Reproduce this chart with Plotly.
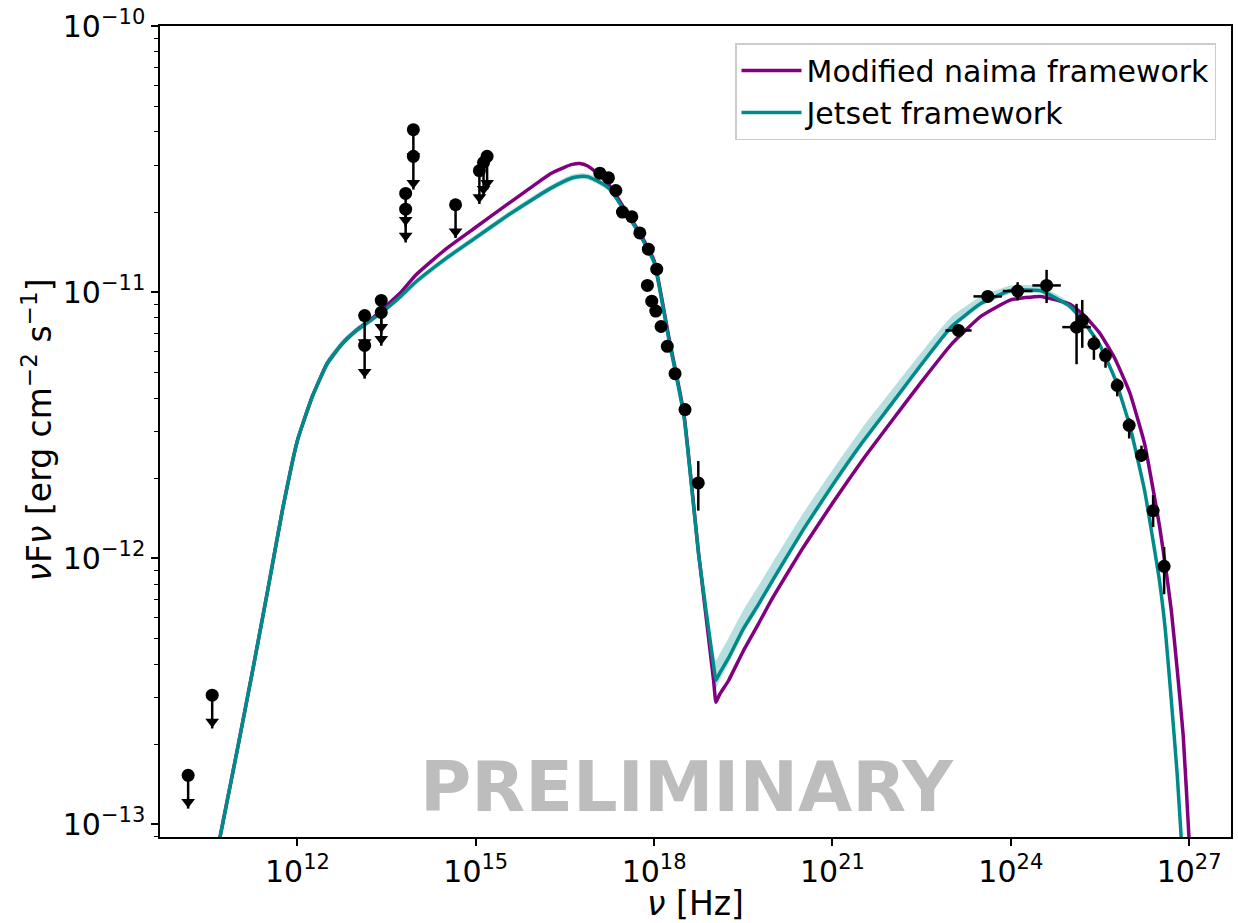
import numpy as np
import plotly.graph_objects as go

# ---------------- model curves (log10 nu [Hz], log10 nuFnu [erg cm-2 s-1]) ----------------
model_lognu = [10.5, 10.75, 11.0, 11.25, 11.5, 11.75, 12.0, 12.25, 12.5, 12.75, 13.0, 13.25,
               13.5, 13.75, 14.0, 14.5, 15.0, 15.5, 16.0, 16.25, 16.5, 16.625, 16.75, 16.875,
               17.0, 17.125, 17.25, 17.5, 17.75, 18.0, 18.25, 18.5, 18.75, 19.0, 19.04, 19.1,
               19.25, 19.5, 19.75, 20.0, 20.5, 21.0, 21.5, 22.0, 22.5, 23.0, 23.5, 24.0, 24.5,
               25.0, 25.25, 25.5, 25.75, 26.0, 26.25, 26.5, 26.6, 26.7, 26.8, 26.9, 27.0, 27.05]

jetset_logflux = [-13.27, -12.988, -12.706, -12.417, -12.120, -11.816, -11.557, -11.392, -11.268,
                  -11.194, -11.142, -11.103, -11.061, -11.013, -10.960, -10.873, -10.795, -10.717,
                  -10.645, -10.611, -10.582, -10.570, -10.565, -10.566, -10.577, -10.592, -10.612,
                  -10.693, -10.780, -10.889, -11.181, -11.463, -11.989, -12.402, -12.458, -12.432,
                  -12.375, -12.265, -12.175, -12.080, -11.895, -11.725, -11.565, -11.418, -11.270,
                  -11.130, -11.042, -10.994, -10.994, -11.054, -11.118, -11.200, -11.324, -11.501,
                  -11.745, -12.083, -12.271, -12.534, -12.815, -13.172, -13.6, -13.9]

naima_logflux = [-13.27, -12.988, -12.706, -12.417, -12.120, -11.816, -11.557, -11.392, -11.268,
                 -11.194, -11.142, -11.100, -11.050, -10.998, -10.934, -10.837, -10.756, -10.675,
                 -10.595, -10.556, -10.530, -10.520, -10.517, -10.525, -10.545, -10.570, -10.600,
                 -10.686, -10.774, -10.882, -11.172, -11.455, -11.985, -12.458, -12.541, -12.512,
                 -12.460, -12.348, -12.248, -12.146, -11.962, -11.793, -11.632, -11.483, -11.336,
                 -11.196, -11.090, -11.029, -11.016, -11.046, -11.091, -11.155, -11.249, -11.377,
                 -11.569, -11.877, -12.027, -12.196, -12.42, -12.665, -13.06, -13.28]

band_hi_logflux = [-13.25, -12.97, -12.69, -12.40, -12.10, -11.80, -11.54, -11.375, -11.252,
                   -11.18, -11.13, -11.09, -11.05, -11.003, -10.95, -10.862, -10.783, -10.705,
                   -10.633, -10.599, -10.570, -10.558, -10.553, -10.554, -10.565, -10.580, -10.600,
                   -10.683, -10.770, -10.879, -11.170, -11.45, -11.97, -12.36, -12.383, -12.36,
                   -12.30, -12.195, -12.105, -12.013, -11.833, -11.668, -11.510, -11.367, -11.225,
                   -11.092, -11.015, -10.975, -10.977, -11.04, -11.104, -11.187, -11.312, -11.49,
                   -11.735, -12.073, -12.26, -12.52, -12.80, -13.16, -13.59, -13.89]

band_lo_logflux = [-13.29, -13.005, -12.72, -12.43, -12.135, -11.835, -11.575, -11.41, -11.285,
                   -11.208, -11.155, -11.115, -11.072, -11.024, -10.97, -10.884, -10.806, -10.728,
                   -10.656, -10.622, -10.593, -10.581, -10.576, -10.577, -10.588, -10.603, -10.622,
                   -10.703, -10.790, -10.899, -11.192, -11.475, -12.005, -12.425, -12.49, -12.46,
                   -12.396, -12.282, -12.190, -12.095, -11.909, -11.738, -11.578, -11.431, -11.282,
                   -11.141, -11.053, -11.005, -11.004, -11.064, -11.128, -11.21, -11.334, -11.511,
                   -11.755, -12.093, -12.28, -12.545, -12.83, -13.19, -13.61, -13.91]

# ---------------- upper limits ----------------
ul_nu = [1.45e10, 3.68e10, 1.35e13, 1.35e13, 2.57e13, 2.57e13, 6.61e13, 6.61e13,
         8.91e13, 8.91e13, 4.57e14, 1.15e15, 1.35e15, 1.55e15]
ul_flux = [1.53e-13, 3.06e-13, 8.17e-12, 6.31e-12, 9.31e-12, 8.39e-12, 2.35e-11, 2.05e-11,
           4.08e-11, 3.24e-11, 2.13e-11, 2.86e-11, 3.07e-11, 3.24e-11]

# ---------------- optical / UV / X-ray detections ----------------
xray_lognu = [17.087, 17.232, 17.356, 17.467, 17.625, 17.759, 17.903, 18.044, 17.887,
              17.960, 18.028, 18.117, 18.222, 18.352, 18.520, 18.743]
xray_flux = [2.80e-11, 2.69e-11, 2.41e-11, 2.00e-11, 1.92e-11, 1.67e-11, 1.45e-11, 1.22e-11,
             1.06e-11, 9.25e-12, 8.49e-12, 7.43e-12, 6.26e-12, 4.94e-12, 3.62e-12, 1.92e-12]
xray_err_hi = [0, 0, 0, 0, 0, 0, 0, 0, 0, 0, 0, 0, 0, 0, 0, 0.40e-12]
xray_err_lo = [0, 0, 0, 0, 0, 0, 0, 0, 0, 0, 0, 0, 0, 0, 0, 0.41e-12]

# ---------------- gamma-ray detections ----------------
gamma_lognu = [23.12, 23.612, 24.115, 24.602, 25.106, 25.202, 25.398, 25.593, 25.790,
               25.991, 26.198, 26.394, 26.579]
gamma_flux = [7.18e-12, 9.64e-12, 1.01e-11, 1.06e-11, 7.39e-12, 7.83e-12, 6.40e-12, 5.78e-12,
              4.46e-12, 3.16e-12, 2.44e-12, 1.51e-12, 9.33e-13]
gamma_err_hi = [0, 0, 0.80e-12, 1.53e-12, 1.65e-12, 1.52e-12, 0.47e-12, 0.40e-12, 0.28e-12,
                0.20e-12, 0.21e-12, 0.22e-12, 0.17e-12]
gamma_err_lo = [0, 0, 0.79e-12, 1.50e-12, 2.03e-12, 1.65e-12, 0.83e-12, 0.58e-12, 0.40e-12,
                0.34e-12, 0.14e-12, 0.20e-12, 0.20e-12]
gamma_xerr_dex = [0.22, 0.24, 0.25, 0.24, 0.24, 0, 0, 0, 0, 0, 0, 0, 0]

x_tick_vals = [1e12, 1e15, 1e18, 1e21, 1e24, 1e27]
x_tick_text = ["10<sup>12</sup>", "10<sup>15</sup>", "10<sup>18</sup>",
               "10<sup>21</sup>", "10<sup>24</sup>", "10<sup>27</sup>"]
y_tick_vals = [1e-13, 1e-12, 1e-11, 1e-10]
y_tick_text = ["10<sup>\u221213</sup>", "10<sup>\u221212</sup>",
               "10<sup>\u221211</sup>", "10<sup>\u221210</sup>"]

# ---------------- styles ----------------
TEAL = "#008b8b"
PURPLE = "#800080"
FONT = "DejaVu Sans"
ARROW_FACTOR = 10 ** -0.125

nu = 10 ** np.array(model_lognu)
fig = go.Figure()

fig.add_trace(go.Scatter(x=nu, y=10 ** np.array(band_lo_logflux), mode="lines",
                         line=dict(width=0, color=TEAL, shape="spline", smoothing=0.4),
                         showlegend=False, hoverinfo="skip"))
fig.add_trace(go.Scatter(x=nu, y=10 ** np.array(band_hi_logflux), mode="lines",
                         line=dict(width=0, color=TEAL, shape="spline", smoothing=0.4),
                         fill="tonexty", fillcolor="rgba(0,139,139,0.28)",
                         showlegend=False, hoverinfo="skip"))
fig.add_trace(go.Scatter(x=nu, y=10 ** np.array(naima_logflux), mode="lines",
                         line=dict(color=PURPLE, width=3.5, shape="spline", smoothing=0.4),
                         name="Modified naima framework"))
fig.add_trace(go.Scatter(x=nu, y=10 ** np.array(jetset_logflux), mode="lines",
                         line=dict(color=TEAL, width=3.5, shape="spline", smoothing=0.4),
                         name="Jetset framework"))

# upper limits: dot + stem + arrow head
ul_f = np.array(ul_flux)
fig.add_trace(go.Scatter(
    x=ul_nu, y=ul_f, mode="markers", showlegend=False,
    marker=dict(color="black", size=13),
    error_y=dict(type="data", symmetric=False, array=np.zeros(len(ul_f)),
                 arrayminus=ul_f * (1 - ARROW_FACTOR), color="black", thickness=2.5, width=0)))
fig.add_trace(go.Scatter(
    x=ul_nu, y=ul_f * 10 ** -0.10, mode="markers", showlegend=False,
    marker=dict(color="black", size=12, symbol="triangle-down")))

# X-ray detections
fig.add_trace(go.Scatter(
    x=10 ** np.array(xray_lognu), y=xray_flux, mode="markers", showlegend=False,
    marker=dict(color="black", size=13),
    error_y=dict(type="data", symmetric=False, array=xray_err_hi, arrayminus=xray_err_lo,
                 color="black", thickness=2.5, width=0)))

# gamma-ray detections
g_nu = 10 ** np.array(gamma_lognu)
g_dx = np.array(gamma_xerr_dex)
fig.add_trace(go.Scatter(
    x=g_nu, y=gamma_flux, mode="markers", showlegend=False,
    marker=dict(color="black", size=13),
    error_y=dict(type="data", symmetric=False, array=gamma_err_hi, arrayminus=gamma_err_lo,
                 color="black", thickness=2.5, width=0),
    error_x=dict(type="data", symmetric=False, array=g_nu * (10 ** g_dx - 1),
                 arrayminus=g_nu * (1 - 10 ** -g_dx), color="black", thickness=2.5, width=0)))

minor_y = [k * 10.0 ** e for e in range(-14, -9) for k in range(2, 10)]

fig.update_xaxes(type="log", range=[9.688, 27.704], tickvals=x_tick_vals, ticktext=x_tick_text,
                 ticks="outside", ticklen=7, tickwidth=1.5, tickcolor="black",
                 showline=True, linecolor="black", linewidth=1.5, mirror=True,
                 showgrid=False, zeroline=False,
                 tickfont=dict(family=FONT, size=30, color="black"),
                 title=dict(text="<i>\u03bd</i> [Hz]", font=dict(family=FONT, size=33, color="black"),
                            standoff=2))
fig.update_yaxes(type="log", range=[-13.047, -10.0], tickvals=y_tick_vals, ticktext=y_tick_text,
                 ticks="outside", ticklen=7, tickwidth=1.5, tickcolor="black",
                 minor=dict(tickvals=minor_y, ticks="outside", ticklen=4, tickwidth=1.2,
                            tickcolor="black", showgrid=False),
                 showline=True, linecolor="black", linewidth=1.5, mirror=True,
                 showgrid=False, zeroline=False,
                 tickfont=dict(family=FONT, size=30, color="black"))

# y-axis title as a rotated annotation
fig.add_annotation(text="<i>\u03bd</i>F<i>\u03bd</i> [erg cm<sup>\u22122</sup> s<sup>\u22121</sup>]",
                   xref="paper", yref="paper", x=-0.114, y=0.5025, xanchor="center", yanchor="middle",
                   textangle=-90, showarrow=False, font=dict(family=FONT, size=33, color="black"))

fig.add_annotation(text="<b>PRELIMINARY</b>", xref="paper", yref="paper", x=0.492, y=0.009,
                   showarrow=False, font=dict(family=FONT, size=70, color="#bdbdbd"))

fig.update_layout(
    width=1238, height=923,
    margin=dict(l=160, r=5, t=25, b=86),
    paper_bgcolor="white", plot_bgcolor="white",
    font=dict(family=FONT, color="black"),
    legend=dict(x=0.986, y=0.979, xanchor="right", yanchor="top", traceorder="normal",
                bgcolor="rgba(255,255,255,0.9)", bordercolor="#cccccc", borderwidth=1.5,
                font=dict(family=FONT, size=30, color="black"), itemwidth=60),
)

fig.write_html("out.html")
